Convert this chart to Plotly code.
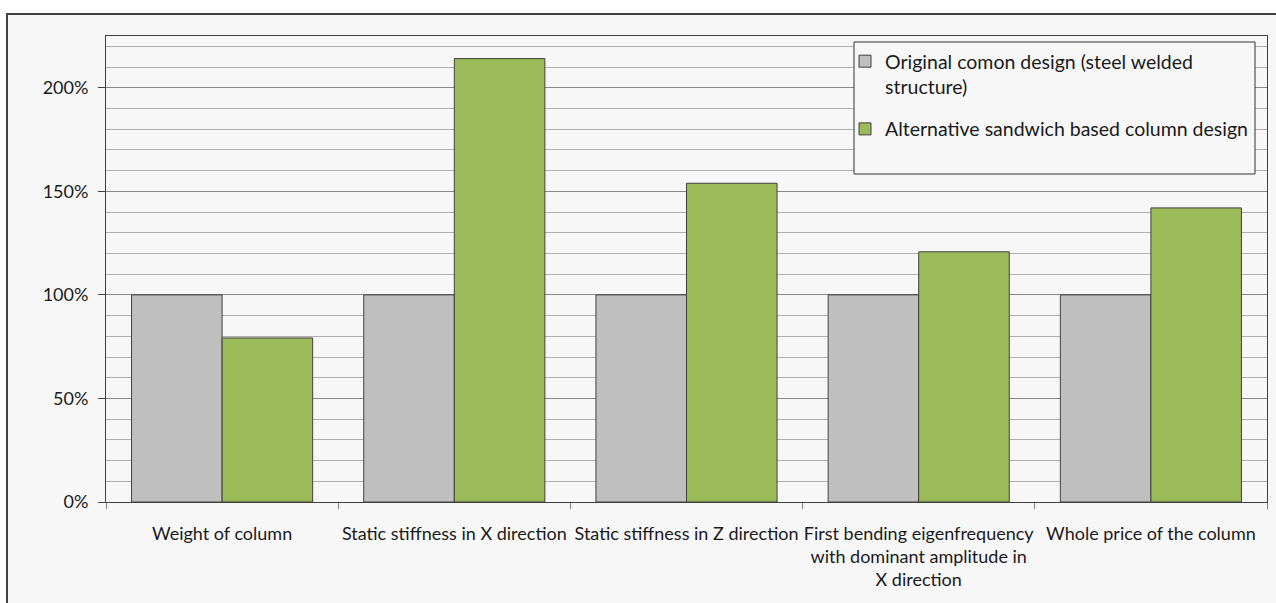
import plotly.graph_objects as go

categories = [
    "Weight of column",
    "Static stiffness in X direction",
    "Static stiffness in Z direction",
    "First bending eigenfrequency<br>with dominant amplitude in<br>X direction",
    "Whole price of the column",
]
original_values = [100, 100, 100, 100, 100]
alternative_values = [79.2, 214.1, 153.9, 120.8, 142.0]
series_names = [
    "Original comon design (steel welded<br>structure)",
    "Alternative sandwich based column design",
]
y_ticks = [0, 50, 100, 150, 200]
y_tick_labels = ["0%", "50%", "100%", "150%", "200%"]

FONT = "Lato"
W, H = 1276, 603
L, R, T, B = 106, 9, 36, 101
pw, ph = W - L - R, H - T - B

def px(x):
    return (x - L) / pw

def py(y):
    return (H - B - y) / ph

fig = go.Figure()
fig.add_trace(go.Bar(
    x=categories, y=original_values, name=series_names[0], legendgroup="a",
    marker=dict(color="#bfbfbf", line=dict(color="#404040", width=1)),
))
fig.add_trace(go.Bar(
    x=categories, y=alternative_values, name=series_names[1], legendgroup="b",
    marker=dict(color="#9bbb59", line=dict(color="#404040", width=1)),
))

shapes = [
    dict(type="rect", xref="paper", yref="paper", layer="below",
         x0=px(7), x1=px(1300), y0=py(640), y1=py(14),
         fillcolor="#f7f7f7", line=dict(color="#404040", width=2)),
    dict(type="rect", xref="paper", yref="paper", layer="above",
         x0=px(854), x1=px(1255), y0=py(174), y1=py(42),
         fillcolor="#f7f7f7", line=dict(color="#333333", width=1)),
]

fig.update_layout(
    width=W, height=H,
    margin=dict(l=L, r=R, t=T, b=B, autoexpand=False),
    paper_bgcolor="white",
    plot_bgcolor="#f7f7f7",
    barmode="group",
    bargap=0.22,
    bargroupgap=0,
    font=dict(family=FONT, size=18, color="#1a1a1a"),
    showlegend=True,
    legend=dict(
        x=px(845), y=py(42), xanchor="left", yanchor="top",
        bgcolor="rgba(0,0,0,0)", borderwidth=0,
        font=dict(family=FONT, size=19.5, color="#1a1a1a"),
        traceorder="grouped", tracegroupgap=14, itemwidth=30,
        valign="top",
    ),
    shapes=shapes,
    xaxis=dict(
        type="category",
        automargin=False, tickangle=0,
        showline=True, linecolor="#404040", linewidth=1, mirror=True,
        ticks="outside", tickson="boundaries", ticklen=6, tickcolor="#808080",
        showgrid=False,
        ticklabelstandoff=15,
        tickfont=dict(family=FONT, size=18, color="#1a1a1a"),
    ),
    yaxis=dict(
        range=[0, 225],
        automargin=False,
        tickvals=y_ticks, ticktext=y_tick_labels,
        showline=True, linecolor="#404040", linewidth=1, mirror=True,
        ticks="outside", ticklen=7, tickcolor="#404040",
        showgrid=True, gridcolor="#868686", gridwidth=1,
        zeroline=False,
        ticklabelstandoff=6,
        minor=dict(dtick=10, showgrid=True, gridcolor="#b0b0b0", gridwidth=1, ticks=""),
        tickfont=dict(family=FONT, size=18, color="#1a1a1a"),
    ),
)

fig.write_html("out.html")
